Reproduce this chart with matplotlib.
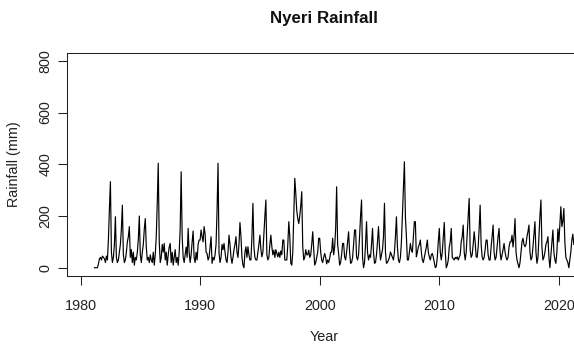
import matplotlib
matplotlib.use("Agg")
import matplotlib.pyplot as plt
import numpy as np

plt.rcParams['font.family'] = ['Liberation Sans', 'DejaVu Sans']

# monthly rainfall (mm); 1981 starts in March
START_YEAR = 1981
START_MONTH = 2  # index of first month (0 = Jan)
rain_by_year = {
    1981: [0, 0, 0, 0, 15, 35, 40, 30, 45, 40],
    1982: [35, 20, 45, 30, 110, 230, 333, 60, 20, 40, 90, 197],
    1983: [40, 20, 30, 60, 90, 150, 242, 50, 20, 30, 60, 100],
    1984: [120, 159, 40, 70, 20, 60, 10, 40, 30, 60, 110, 200],
    1985: [50, 20, 60, 90, 150, 190, 80, 30, 40, 20, 50, 30],
    1986: [20, 60, 10, 50, 120, 250, 404, 100, 20, 40, 90, 60],
    1987: [94, 30, 60, 10, 50, 80, 94, 20, 60, 10, 40, 70],
    1988: [20, 40, 10, 60, 150, 371, 120, 40, 20, 50, 80, 40],
    1989: [152, 60, 20, 50, 100, 142, 40, 20, 60, 30, 90, 107],
    1990: [107, 146, 120, 100, 159, 130, 60, 55, 30, 40, 80, 120],
    1991: [17, 40, 30, 50, 90, 220, 404, 55, 20, 40, 90, 70],
    1992: [94, 60, 30, 20, 60, 126, 90, 40, 17, 40, 70, 90],
    1993: [120, 60, 40, 90, 175, 120, 40, 10, 0, 60, 81, 40],
    1994: [81, 50, 30, 30, 120, 249, 80, 40, 30, 30, 60, 90],
    1995: [126, 70, 42, 60, 130, 200, 262, 50, 30, 40, 90, 126],
    1996: [81, 50, 68, 40, 70, 55, 42, 60, 40, 65, 50, 107],
    1997: [107, 30, 30, 30, 90, 178, 120, 17, 10, 60, 200, 346],
    1998: [287, 220, 190, 171, 200, 240, 294, 81, 30, 40, 70, 50],
    1999: [50, 68, 40, 50, 90, 139, 70, 10, 20, 40, 60, 114],
    2000: [114, 60, 30, 20, 40, 55, 40, 15, 30, 20, 36, 60],
    2001: [60, 114, 50, 80, 150, 313, 90, 55, 10, 20, 50, 94],
    2002: [94, 42, 30, 60, 100, 139, 60, 17, 20, 40, 90, 146],
    2003: [146, 42, 30, 50, 120, 200, 262, 40, 0, 20, 90, 178],
    2004: [60, 30, 50, 40, 90, 152, 60, 17, 20, 50, 100, 159],
    2005: [80, 30, 50, 70, 120, 249, 60, 17, 20, 30, 40, 61],
    2006: [50, 40, 30, 60, 120, 197, 80, 30, 20, 40, 100, 200],
    2007: [300, 410, 197, 120, 30, 30, 60, 94, 68, 60, 120, 178],
    2008: [178, 42, 60, 81, 90, 107, 60, 30, 20, 40, 60, 80],
    2009: [107, 60, 42, 30, 50, 55, 40, 20, 0, 5, 40, 100],
    2010: [152, 60, 30, 60, 120, 175, 60, 0, 10, 30, 80, 100],
    2011: [152, 40, 35, 30, 40, 35, 42, 30, 40, 50, 100, 120],
    2012: [165, 60, 30, 60, 130, 200, 268, 68, 40, 50, 90, 139],
    2013: [100, 42, 40, 80, 150, 242, 90, 42, 30, 40, 70, 107],
    2014: [107, 50, 30, 30, 80, 120, 165, 60, 30, 40, 80, 120],
    2015: [152, 60, 30, 50, 70, 94, 60, 40, 30, 40, 80, 100],
    2016: [100, 126, 80, 120, 190, 60, 30, 15, 0, 20, 60, 100],
    2017: [114, 90, 81, 90, 120, 140, 165, 60, 30, 40, 80, 130],
    2018: [178, 60, 17, 40, 120, 200, 262, 80, 30, 40, 60, 90],
    2019: [100, 120, 40, 0, 50, 100, 146, 60, 30, 17, 60, 150],
    2020: [100, 170, 236, 159, 180, 229, 100, 40, 30, 20, 0, 30],
    2021: [61, 107, 130, 90],
}

x_ticks = [1980, 1990, 2000, 2010, 2020]
y_ticks = [0, 200, 400, 600, 800]

rain = np.concatenate([rain_by_year[y] for y in sorted(rain_by_year)])
t = START_YEAR + (START_MONTH + np.arange(len(rain))) / 12.0

W, H = 574, 347
fig = plt.figure(figsize=(W / 100, H / 100), dpi=100)
# plot region runs past the right edge, as in the cropped reference
ax = fig.add_axes([67 / W, 1 - 276 / H, (581 - 67) / W, (276 - 52.6) / H])

ax.plot(t, rain, color='black', lw=0.85)

ax.set_xlim(1978.87, 2021.85)
ax.set_ylim(-32, 832)
ax.set_xticks(x_ticks)
ax.set_yticks(y_ticks)
ax.set_yticklabels([str(v) for v in y_ticks], rotation=90, va='center')
ax.tick_params(axis='both', direction='out', length=6.5, width=0.75,
               labelsize=10.4, colors='#222222')
ax.tick_params(axis='x', pad=10)
ax.tick_params(axis='y', pad=4)
for s in ax.spines.values():
    s.set_linewidth(0.75)
    s.set_color('#222222')

fig.text(324 / W, 1 - 19 / H, 'Nyeri Rainfall', ha='center', va='center',
         fontsize=12.2, fontweight='bold', color='#111111')
fig.text(324 / W, 1 - 337 / H, 'Year', ha='center', va='center',
         fontsize=10.4, color='#222222')
fig.text(14 / W, 1 - 164 / H, 'Rainfall (mm)', ha='center', va='center',
         rotation=90, fontsize=10.4, color='#222222')

fig.savefig('out.png', dpi=100)
